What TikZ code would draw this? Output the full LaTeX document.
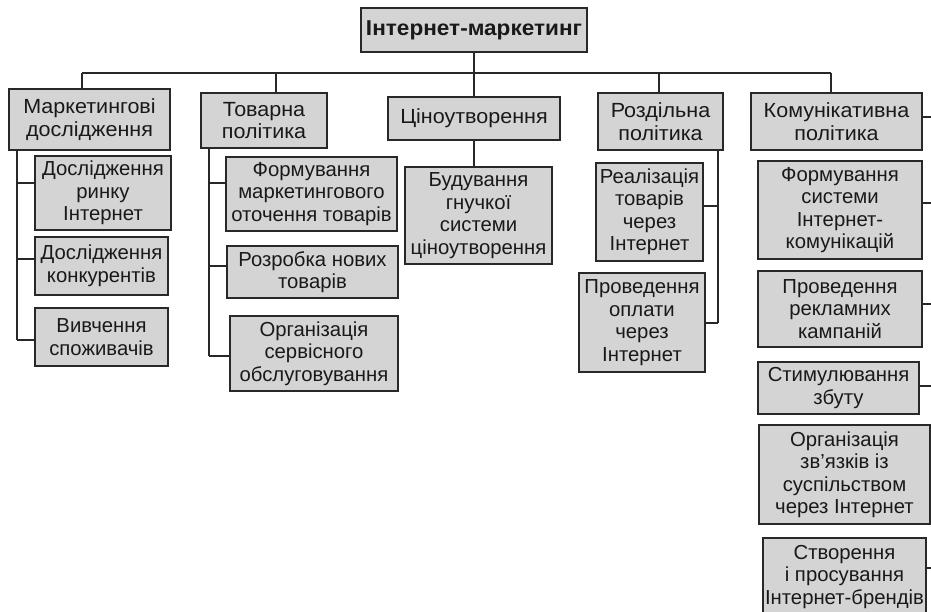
\documentclass[tikz,border=0pt]{standalone}
\usepackage{fontspec}
\setmainfont{Liberation Sans}
\newfontfamily\headfont{Liberation Sans}[FakeStretch=1.05]
\definecolor{boxfill}{RGB}{212,212,212}
\definecolor{edge}{RGB}{40,40,40}
\begin{document}
\begin{tikzpicture}[x=1pt,y=-1pt,
  box/.style={draw=edge,fill=boxfill,line width=1.4pt,inner sep=0pt,align=center,
    font=\fontsize{20.3}{22.5}\selectfont,text=black!90},
  head/.style={box,font=\headfont\fontsize{20.5}{22.5}\selectfont},
  link/.style={draw=edge,line width=1.3pt}]
\useasboundingbox (0,0) rectangle (931,612);
\clip (0,0) rectangle (931,612);
\newcommand{\bx}[7][box]{\node[#1,minimum width=#5pt,minimum height=#6pt] (#2) at (#3,#4) {#7};}
\bx[head]{top}{474}{30}{226}{44}{\fontsize{21.5}{23}\selectfont\textbf{Інтернет-маркетинг}}
\bx[head]{m1}{89.5}{119.5}{161}{61}{Маркетингові\\дослідження}
\bx[head]{m2}{264}{120.5}{126}{55}{Товарна\\політика}
\bx[head]{m3}{474}{118.5}{172}{43}{Ціноутворення}
\bx[head]{m4}{660.5}{121.5}{125}{57}{Роздільна\\політика}
\bx[head]{m5}{836.5}{121.5}{171}{57}{Комунікативна\\політика}
\bx{c11}{103}{193}{136}{74}{Дослідження\\ринку\\Інтернет}
\bx{c12}{101.5}{266}{133}{58}{Дослідження\\конкурентів}
\bx{c13}{101.5}{337}{133}{58}{Вивчення\\споживачів}
\bx{c21}{311.5}{194}{171}{74}{Формування\\маркетингового\\оточення товарів}
\bx{c22}{312.5}{272}{171}{52}{Розробка нових\\товарів}
\bx{c23}{314}{353.5}{168}{75}{Організація\\сервісного\\обслуговування}
\bx{c31}{478.5}{215.5}{147}{97}{Будування\\гнучкої\\системи\\ціноутворення}
\bx{c41}{649.5}{212}{107}{98}{Реалізація\\товарів\\через\\Інтернет}
\bx{c42}{642}{322.5}{126}{99}{Проведення\\оплати\\через\\Інтернет}
\bx{c51}{840}{210}{164}{98}{Формування\\системи\\Інтернет-\\комунікацій}
\bx{c52}{840}{309}{164}{76}{Проведення\\рекламних\\кампаній}
\bx{c53}{838.5}{388}{161}{52}{Стимулювання\\збуту}
\bx{c54}{844.5}{474.5}{171}{99}{Організація\\зв’язків із\\суспільством\\через Інтернет}
\bx{c55}{844.5}{577}{163}{78}{Створення\\і просування\\Інтернет-брендів}
% bus
\coordinate (bl) at (82,73);
\coordinate (br) at (831,73);
\coordinate (b2) at (276,73);
\coordinate (b4) at (659,73);
\draw[link] (top.south) -- (m3.north);
\draw[link] (bl) -- (br);
\draw[link] (bl) -- (bl |- m1.north);
\draw[link] (b2) -- (b2 |- m2.north);
\draw[link] (b4) -- (b4 |- m4.north);
\draw[link] (br) -- (br |- m5.north);
% m1 children
\coordinate (v1) at (17,340);
\draw[link] (v1 |- m1.south) -- (v1);
\draw[link] (17,183) -- (17,183 -| c11.west);
\draw[link] (17,259) -- (17,259 -| c12.west);
\draw[link] (v1) -- (v1 -| c13.west);
% m2 children
\coordinate (v2) at (209,356);
\draw[link] (v2 |- m2.south) -- (v2);
\draw[link] (209,183) -- (209,183 -| c21.west);
\draw[link] (209,266) -- (209,266 -| c22.west);
\draw[link] (v2) -- (v2 -| c23.west);
% m3 child
\draw[link] (m3.south) -- (m3.south |- c31.north);
% m4 children
\coordinate (v4) at (718,323);
\draw[link] (v4 |- m4.south) -- (v4);
\draw[link] (718,206) -- (718,206 -| c41.east);
\draw[link] (v4) -- (v4 -| c42.east);
% m5 children (bus off the right edge)
\coordinate (v5) at (940,568);
\draw[link] (940,117) -- (940,117 -| m5.east);
\draw[link] (940,203) -- (940,203 -| c51.east);
\draw[link] (940,304) -- (940,304 -| c52.east);
\draw[link] (940,386) -- (940,386 -| c53.east);
\draw[link] (940,475) -- (940,475 -| c54.east);
\draw[link] (v5) -- (v5 -| c55.east);
\end{tikzpicture}
\end{document}
